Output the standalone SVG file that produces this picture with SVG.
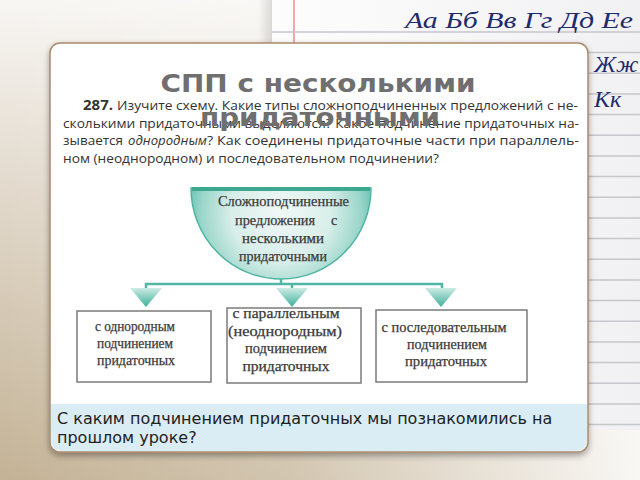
<svg xmlns="http://www.w3.org/2000/svg" width="640" height="480" viewBox="0 0 640 480">
<defs>
<linearGradient id="bgV" x1="0" y1="0" x2="0" y2="1"><stop offset="0" stop-color="#f8f6f3"/><stop offset="0.35" stop-color="#e4dcd0"/><stop offset="1" stop-color="#c3b295"/></linearGradient>
<linearGradient id="bgH" x1="0" y1="0" x2="1" y2="0"><stop offset="0" stop-color="#ffffff" stop-opacity="0"/><stop offset="0.45" stop-color="#ffffff" stop-opacity="0.25"/><stop offset="1" stop-color="#ffffff" stop-opacity="0.9"/></linearGradient>
<linearGradient id="pageShadow" x1="0" y1="0" x2="1" y2="0"><stop offset="0" stop-color="#000" stop-opacity="0"/><stop offset="1" stop-color="#000" stop-opacity="0.12"/></linearGradient>
<linearGradient id="pageFill" x1="0" y1="0" x2="1" y2="0"><stop offset="0" stop-color="#fdfdfd"/><stop offset="1" stop-color="#f1f1f3"/></linearGradient>
<radialGradient id="rootFill" gradientUnits="userSpaceOnUse" cx="281" cy="212" r="100"><stop offset="0" stop-color="#f1f9f7"/><stop offset="0.5" stop-color="#d8eee9"/><stop offset="0.8" stop-color="#9ad6ca"/><stop offset="1" stop-color="#55b9a6"/></radialGradient>
<linearGradient id="arrowFill" x1="0" y1="0" x2="0" y2="1"><stop offset="0" stop-color="#cdebe5"/><stop offset="1" stop-color="#3eb09a"/></linearGradient>
<filter id="shadow" x="-5%" y="-5%" width="110%" height="115%"><feDropShadow dx="0" dy="3" stdDeviation="3" flood-color="#000" flood-opacity="0.35"/></filter>
<style>
.rule{stroke:#c6c6cb;stroke-width:1.5}
.hand{font-family:"Liberation Serif",serif;font-style:italic;font-size:24px;fill:#1d2c6e}
.title{font-family:"DejaVu Sans",sans-serif;font-weight:bold;font-size:25px;fill:#6f6f6f;text-anchor:middle}
.para{font-family:"Open Sans","Noto Sans",sans-serif;font-size:13.5px;fill:#333}
.serif{font-family:"Liberation Serif",serif;font-size:14px;fill:#3a3a3a;text-anchor:middle;stroke:#3a3a3a;stroke-width:0.25}
.box{fill:#fff;stroke:#7b7b7b;stroke-width:1.5}
.conn{fill:none;stroke:#4fb7a3;stroke-width:2.5}
.arrow{fill:url(#arrowFill)}
.cap{font-family:"DejaVu Sans",sans-serif;font-size:16px;fill:#222}
</style>
</defs>

<!-- background -->
<rect x="0" y="0" width="640" height="480" fill="url(#bgV)"/>
<rect x="0" y="0" width="640" height="480" fill="url(#bgH)"/>
<rect x="258" y="0" width="14" height="430" fill="url(#pageShadow)"/>
<rect x="272" y="0" width="368" height="430" fill="url(#pageFill)"/>
<line x1="294" y1="0" x2="294" y2="45" stroke="#e05555" stroke-width="1"/>
<g>
<line class="rule" x1="272" y1="32" x2="640" y2="32"/>
<line class="rule" x1="272" y1="52.6" x2="640" y2="52.6"/>
<line class="rule" x1="272" y1="73.3" x2="640" y2="73.3"/>
<line class="rule" x1="272" y1="94" x2="640" y2="94"/>
<line class="rule" x1="272" y1="114.6" x2="640" y2="114.6"/>
<line class="rule" x1="272" y1="135.3" x2="640" y2="135.3"/>
<line class="rule" x1="272" y1="156" x2="640" y2="156"/>
<line class="rule" x1="272" y1="176.6" x2="640" y2="176.6"/>
<line class="rule" x1="272" y1="197.3" x2="640" y2="197.3"/>
<line class="rule" x1="272" y1="218" x2="640" y2="218"/>
<line class="rule" x1="272" y1="238.6" x2="640" y2="238.6"/>
<line class="rule" x1="272" y1="259.3" x2="640" y2="259.3"/>
<line class="rule" x1="272" y1="280" x2="640" y2="280"/>
<line class="rule" x1="272" y1="300.6" x2="640" y2="300.6"/>
<line class="rule" x1="272" y1="321.3" x2="640" y2="321.3"/>
<line class="rule" x1="272" y1="342" x2="640" y2="342"/>
<line class="rule" x1="272" y1="362.6" x2="640" y2="362.6"/>
<line class="rule" x1="272" y1="383.3" x2="640" y2="383.3"/>
<line class="rule" x1="272" y1="404" x2="640" y2="404"/>
<line class="rule" x1="272" y1="424.6" x2="640" y2="424.6"/>
</g>
<text class="hand" x="405" y="28" textLength="228" lengthAdjust="spacingAndGlyphs">Аа Бб Вв Гг Дд Ее</text>
<text class="hand" x="594" y="72">Жж</text>
<text class="hand" x="594" y="107">Кк</text>

<!-- card -->
<g id="card">
<rect x="50" y="43" width="538" height="409" rx="10" fill="#fff" stroke="#a98b69" stroke-width="1.5" filter="url(#shadow)"/>
<path d="M51,404 H587 V441 A10,10 0 0 1 577,451 H61 A10,10 0 0 1 51,441 Z" fill="#daedf4"/>
</g>

<!-- exercise text -->
<g id="exercise">
<text class="para" x="83" y="110" font-weight="bold" textLength="30" lengthAdjust="spacingAndGlyphs">287.</text>
<text class="para" x="117" y="110" textLength="461" lengthAdjust="spacingAndGlyphs">Изучите схему. Какие типы сложноподчиненных предложений с не-</text>
<text class="para" x="63" y="127.7" textLength="516" lengthAdjust="spacingAndGlyphs">сколькими придаточными выделяются? Какое подчинение придаточных на-</text>
<text class="para" x="63" y="145.3" textLength="60" lengthAdjust="spacingAndGlyphs">зывается</text>
<text class="para" x="128" y="145.3" font-style="italic" textLength="79" lengthAdjust="spacingAndGlyphs">однородным</text>
<text class="para" x="207" y="145.3" textLength="372" lengthAdjust="spacingAndGlyphs">? Как соединены придаточные части при параллель-</text>
<text class="para" x="63" y="163" textLength="376" lengthAdjust="spacingAndGlyphs">ном (неоднородном) и последовательном подчинении?</text>
</g>

<!-- title -->
<g id="title">
<text class="title" x="318" y="92" textLength="315" lengthAdjust="spacingAndGlyphs">СПП с несколькими</text>
<text class="title" x="320" y="126" textLength="240" lengthAdjust="spacingAndGlyphs">придаточными</text>
</g>

<!-- connectors -->
<g id="connectors">
<path class="conn" d="M281,277 V284"/>
<path class="conn" d="M146,291 V284 H442 V291"/>
<path class="conn" d="M292,284 V291"/>
<polygon class="arrow" points="130,288 162,288 146,307"/>
<polygon class="arrow" points="276,288 308,288 292,307"/>
<polygon class="arrow" points="425,288 457,288 441,307"/>
</g>

<!-- root node -->
<g id="node-root">
<path d="M191,188 H371 A90,91 0 0 1 191,188 Z" fill="url(#rootFill)" stroke="#4fb5a2" stroke-width="1.5"/>
<rect x="192" y="187" width="178" height="4" fill="#3ea790"/>
<text class="serif" x="283.5" y="206" textLength="131" lengthAdjust="spacingAndGlyphs">Сложноподчиненные</text>
<text class="serif" y="225"><tspan x="275" textLength="80" lengthAdjust="spacingAndGlyphs">предложения</tspan><tspan x="334">с</tspan></text>
<text class="serif" x="283" y="243" textLength="82" lengthAdjust="spacingAndGlyphs">несколькими</text>
<text class="serif" x="283" y="261" textLength="88" lengthAdjust="spacingAndGlyphs">придаточными</text>
</g>

<g id="node-homogeneous">
<rect class="box" x="77" y="311" width="134" height="71"/>
<text class="serif" x="135" y="331" textLength="80" lengthAdjust="spacingAndGlyphs">с однородным</text>
<text class="serif" x="135" y="348" textLength="76" lengthAdjust="spacingAndGlyphs">подчинением</text>
<text class="serif" x="136" y="365" textLength="78" lengthAdjust="spacingAndGlyphs">придаточных</text>
</g>

<g id="node-parallel">
<rect class="box" x="227" y="308" width="134" height="75"/>
<text class="serif" x="286" y="318" textLength="107" lengthAdjust="spacingAndGlyphs">с параллельным</text>
<text class="serif" x="285" y="336" textLength="114" lengthAdjust="spacingAndGlyphs">(неоднородным)</text>
<text class="serif" x="286" y="353" textLength="82" lengthAdjust="spacingAndGlyphs">подчинением</text>
<text class="serif" x="286" y="371" textLength="87" lengthAdjust="spacingAndGlyphs">придаточных</text>
</g>

<g id="node-sequential">
<rect class="box" x="376" y="310" width="151" height="72"/>
<text class="serif" x="444" y="332" textLength="125" lengthAdjust="spacingAndGlyphs">с последовательным</text>
<text class="serif" x="447" y="349" textLength="80" lengthAdjust="spacingAndGlyphs">подчинением</text>
<text class="serif" x="446" y="366" textLength="82" lengthAdjust="spacingAndGlyphs">придаточных</text>
</g>

<!-- caption -->
<g id="caption">
<text class="cap" x="57" y="424">С каким подчинением придаточных мы познакомились на</text>
<text class="cap" x="57" y="443">прошлом уроке?</text>
</g>
</svg>
